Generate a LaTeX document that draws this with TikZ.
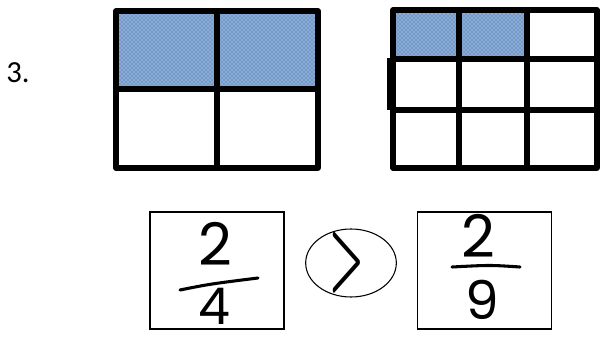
\documentclass[tikz,border=0pt]{standalone}
\usepackage{fontspec}
\setmainfont{Carlito}
\newfontfamily\handfont{Poppins}
\usetikzlibrary{patterns,shapes.geometric}
\definecolor{shadeblue}{RGB}{79,129,189}
\tikzset{
  gridline/.style={line width=3.8pt, line join=round},
  shaded/.style={fill=shadeblue!80, postaction={pattern=crosshatch dots, pattern color=white!85!shadeblue}},
  fracbox/.style={draw, line width=0.8pt, minimum width=100.5pt, minimum height=87.75pt, inner sep=0pt},
  digit/.style={font=\handfont\fontsize{44}{44}\selectfont, inner sep=0pt},
  lowdigit/.style={font=\handfont\fontsize{40}{40}\selectfont, inner sep=0pt},
  fracbar/.style={line width=2.3pt, line cap=round},
}
\begin{document}
\begin{tikzpicture}[x=0.75pt,y=-0.75pt]
    \useasboundingbox (0,0) rectangle (600,342);

    % Nomor soal
    \node[font=\fontsize{23}{23}\selectfont, inner sep=0pt] (num) at (18,73) {3.};

    % Persegi panjang kiri: 2 dari 4
    \fill[shaded] (116,11) rectangle (318,89);
    \draw[gridline] (116,11) rectangle (318,168);
    \draw[gridline] (217,11) -- (217,168);
    \draw[gridline] (116,89) -- (318,89);

    % Persegi panjang kanan: 2 dari 9
    \fill[shaded] (393,10) rectangle (459,59);
    \fill[shaded] (459,10) rectangle (527,59);
    \draw[gridline] (393,10) rectangle (597,168);
    \foreach \x in {459,527} \draw[gridline] (\x,10) -- (\x,168);
    \foreach \y in {59,110} \draw[gridline] (393,\y) -- (597,\y);
    \draw[gridline] (390,58) -- (390,110);

    % Perbandingan pecahan
    \node[fracbox] (left) at (217,270.5) {};
    \node[fracbox] (right) at (484.5,270.5) {};
    \node[draw, ellipse, line width=0.8pt, minimum width=68pt, minimum height=51pt, inner sep=0pt] (cmp) at (351,263) {};
    \node[inner sep=0pt] (gt) at ([xshift=-3pt]cmp.center) {\resizebox{26pt}{40pt}{\boldmath$>$}};

    \node[digit] (lnum) at (215,244) {2};
    \node[lowdigit, font=\handfont\fontsize{38}{38}\selectfont] (lden) at (214,306) {4};
    \draw[fracbar] (180,290) .. controls (210,284) .. (258,278);

    \node[digit] (rnum) at (478,236) {2};
    \node[lowdigit] (rden) at (482,300) {9};
    \draw[fracbar] (452,267) .. controls (490,265) .. (520,267);
\end{tikzpicture}
\end{document}
